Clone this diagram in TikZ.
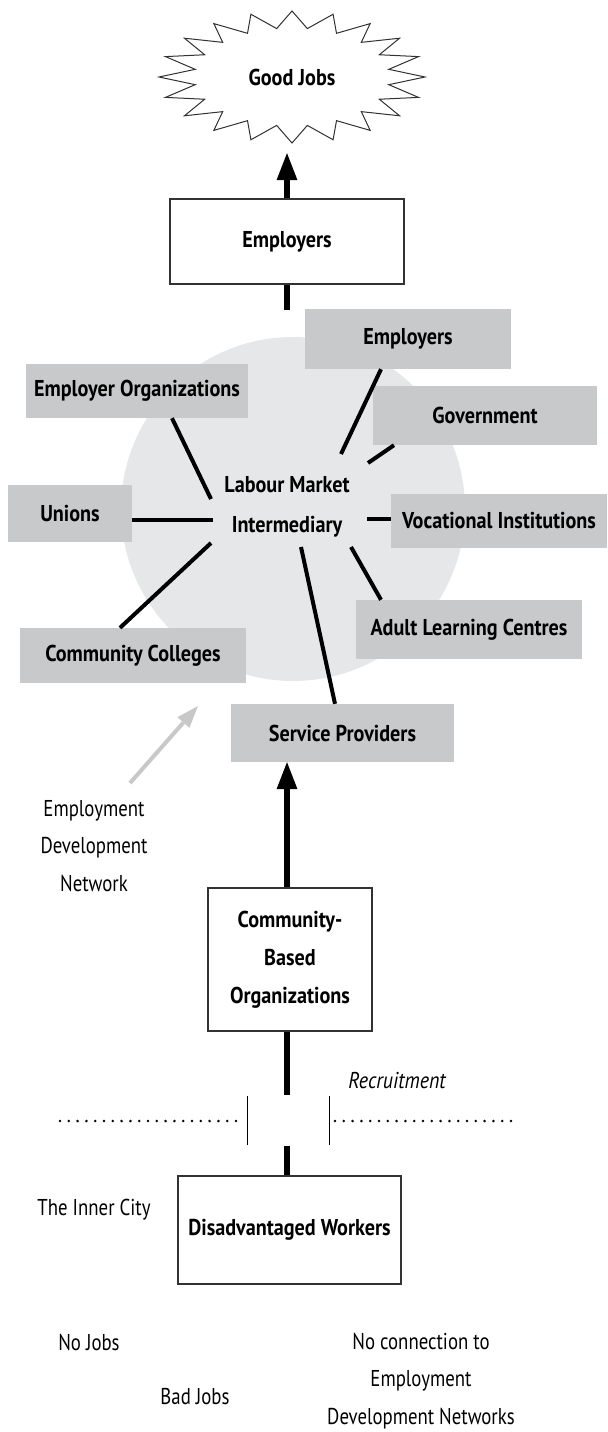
\documentclass[tikz,border=0pt]{standalone}
\usepackage{fontspec}
\setmainfont{PT Sans}[FakeStretch=0.82]
\newfontfamily\headfont{PT Sans}[FakeStretch=0.88]
\newfontfamily\notefont{PT Sans}[FakeStretch=0.87]
\usetikzlibrary{arrows.meta}
\definecolor{boxgray}{RGB}{200,201,203}
\definecolor{hubgray}{RGB}{230,231,232}
\definecolor{edge}{RGB}{50,50,50}
\definecolor{pointer}{RGB}{200,200,200}
\begin{document}
\begin{tikzpicture}[x=1bp,y=-1bp,
  lbl/.style={font=\fontsize{23}{38}\selectfont, align=center, inner sep=0pt},
  boldlbl/.style={lbl, font=\headfont\fontsize{23}{38}\selectfont\bfseries},
  whitebox/.style={boldlbl, draw=edge, line width=1.2bp, fill=white},
  graybox/.style={boldlbl, fill=boxgray},
  spoke/.style={line width=4bp},
  mainflow/.style={line width=6.5bp, -{Triangle[length=27bp,width=21bp,line width=0pt]}},
  stub/.style={line width=6.5bp},
  gate/.style={line width=1bp},
  boundary/.style={line width=2.8bp, line cap=round, dash pattern=on 0bp off 8.8bp},
  pointerarrow/.style={draw=pointer, line width=4bp, -{Triangle[length=22bp,width=16bp,line width=0pt,fill=pointer]}}
]
\useasboundingbox (0,0) rectangle (608,1432);

% starburst outline of the goal
\draw[edge, line width=1bp, fill=white, line join=miter, shift={(292,77)}]
  plot[domain=0:39, samples=40, variable=\k]
  ({(115.5+17.5*cos(180*\k))*cos(9*\k)}, {(57.5+8.5*cos(180*\k))*sin(9*\k)}) -- cycle;
\node[boldlbl, minimum width=266bp, minimum height=132bp] (gj) at (292,77) {Good Jobs};

% intermediary hub
\fill[hubgray] (293,509) circle[radius=172];
\node[boldlbl, font=\headfont\fontsize{23}{40}\selectfont\bfseries] (lmi) at (287,507) {Labour Market\\Intermediary};

% boxes
\node[whitebox, minimum width=234bp, minimum height=85bp] (emp) at (287,241.5) {Employers};
\node[graybox, minimum width=206bp, minimum height=60bp] (em2) at (408,339) {Employers};
\node[graybox, minimum width=222bp, minimum height=54bp] (eo) at (137,391) {Employer Organizations};
\node[graybox, minimum width=224bp, minimum height=59bp] (gov) at (485,415.5) {Government};
\node[graybox, minimum width=124bp, minimum height=57bp] (un) at (70,513.5) {Unions};
\node[graybox, minimum width=216bp, minimum height=54bp] (voc) at (499,521) {Vocational Institutions};
\node[graybox, minimum width=226bp, minimum height=59bp] (alc) at (469,629.5) {Adult Learning Centres};
\node[graybox, minimum width=226bp, minimum height=55bp] (cc) at (133,655.5) {Community Colleges};
\node[graybox, minimum width=223bp, minimum height=58bp] (sp) at (342.5,733) {Service Providers};
\node[whitebox, minimum width=164bp, minimum height=143bp] (cbo) at (290,959.5) {Community-\\Based\\Organizations};
\node[whitebox, minimum width=223bp, minimum height=108bp] (dw) at (289.5,1230) {Disadvantaged Workers};

% plain labels
\node[lbl] (edn) at (94,846) {Employment\\Development\\Network};
\node[lbl, font=\notefont\fontsize{23}{38}\selectfont\itshape] (rec) at (397,1081) {Recruitment};
\node[lbl] (inner) at (94,1210) {The Inner City};
\node[lbl] (nojobs) at (89,1342) {No Jobs};
\node[lbl] (badjobs) at (195,1397) {Bad Jobs};
\node[lbl, font=\fontsize{23}{37.5}\selectfont] (nocon) at (421,1381) {No connection to\\Employment\\Development Networks};

% spokes from the hub
\coordinate (h1) at (211,499);
\coordinate (h2) at (213,520);
\coordinate (h3) at (211,543);
\coordinate (h4) at (341,454);
\coordinate (h5) at (368,463);
\coordinate (h6) at (367,519);
\coordinate (h7) at (351,547);
\coordinate (h8) at (301,547);
\draw[spoke] (h1) -- (172,0 |- eo.south);
\draw[spoke] (h2) -- (un.east |- 0,520);
\draw[spoke] (h3) -- (120,0 |- cc.north);
\draw[spoke] (h4) -- (381,0 |- em2.south);
\draw[spoke] (h5) -- (394,0 |- gov.south);
\draw[spoke] (h6) -- (voc.west |- 0,519);
\draw[spoke] (h7) -- (381,0 |- alc.north);
\draw[spoke] (h8) -- (335,0 |- sp.north);

% main upward flow
\draw[mainflow, shorten >=10bp] (emp.north) -- (emp.north |- gj.south);
\coordinate (empstub) at (287,310);
\draw[stub] (emp.south) -- (empstub);
\draw[mainflow] (287,0 |- cbo.north) -- (287,0 |- sp.south);
\coordinate (cbostub) at (287,1095);
\draw[stub] (287,0 |- cbo.south) -- (cbostub);
\coordinate (dwstub) at (287,1146);
\draw[stub] (287,0 |- dw.north) -- (dwstub);

% network pointer
\coordinate (gtail) at (130,783);
\coordinate (ghead) at (198,706);
\draw[pointerarrow] (gtail) -- (ghead);

% inner-city boundary with the recruitment gate
\coordinate (bl0) at (60,1121);
\coordinate (bl1) at (244,1121);
\coordinate (br0) at (335,1121);
\coordinate (br1) at (516,1121);
\draw[boundary] (bl0) -- (bl1);
\draw[boundary] (br0) -- (br1);
\coordinate (gl0) at (247,1096);
\coordinate (gl1) at (247,1145);
\coordinate (gr0) at (329,1096);
\coordinate (gr1) at (329,1145);
\draw[gate] (gl0) -- (gl1);
\draw[gate] (gr0) -- (gr1);
\end{tikzpicture}
\end{document}
